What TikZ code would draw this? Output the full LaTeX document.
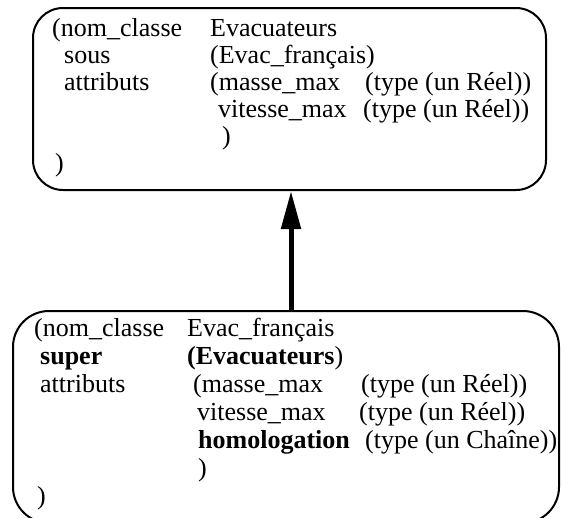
\documentclass[tikz,border=0pt]{standalone}
\usepackage{fontspec}
\setmainfont{Liberation Serif}
\usetikzlibrary{arrows.meta}
\begin{document}
\begin{tikzpicture}[x=1pt,y=-1pt,
  box/.style={draw=black, line width=2pt, rounded corners=#1, inner sep=0pt},
  txt/.style={anchor=base west, inner sep=0pt, font=\fontsize{26}{28}\selectfont},
  inherit/.style={line width=5pt, -{Triangle[length=38pt,width=19pt]}}]
\useasboundingbox (0,0) rectangle (561,517);
\clip (0,0) rectangle (561,517);
% boxes
\node[box=30pt, minimum width=513pt, minimum height=182pt] (top) at (289.5,99) {};
\node[box=36pt, minimum width=546pt, minimum height=212pt] (bot) at (286,417) {};
% arrow
\coordinate (ax) at (291,0);
\draw[inherit] (ax |- bot.north) -- (ax |- top.south);
% top box text
\node[txt] (t1) at (52,36) {(nom\_classe};
\node[txt] (t2) at (210,36) {Evacuateurs};
\node[txt] (t3) at (64,63) {sous};
\node[txt] (t4) at (210,63) {(Evac\_français)};
\node[txt] (t5) at (64,90) {attributs};
\node[txt] (t6) at (210,90) {(masse\_max};
\node[txt] (t7) at (365,90) {(type (un Réel))};
\node[txt] (t8) at (218,117) {vitesse\_max};
\node[txt] (t9) at (363,117) {(type (un Réel))};
\node[txt] (t10) at (222,144) {)};
\node[txt] (t11) at (55,171) {)};
% bottom box text
\node[txt] (b1) at (34,336) {(nom\_classe};
\node[txt] (b2) at (187,336) {Evac\_français};
\node[txt] (b3) at (40,364) {\textbf{super}};
\node[txt] (b4) at (187,364) {\textbf{(Evacuateurs})};
\node[txt] (b5) at (40,392) {attributs};
\node[txt] (b6) at (193,392) {(masse\_max};
\node[txt] (b7) at (361,392) {(type (un Réel))};
\node[txt] (b8) at (197,420) {vitesse\_max};
\node[txt] (b9) at (359,420) {(type (un Réel))};
\node[txt] (b10) at (198,448) {\textbf{homologation}};
\node[txt] (b11) at (365,448) {(type (un Chaîne))};
\node[txt] (b12) at (198,476) {)};
\node[txt] (b13) at (37,504) {)};
\end{tikzpicture}
\end{document}
